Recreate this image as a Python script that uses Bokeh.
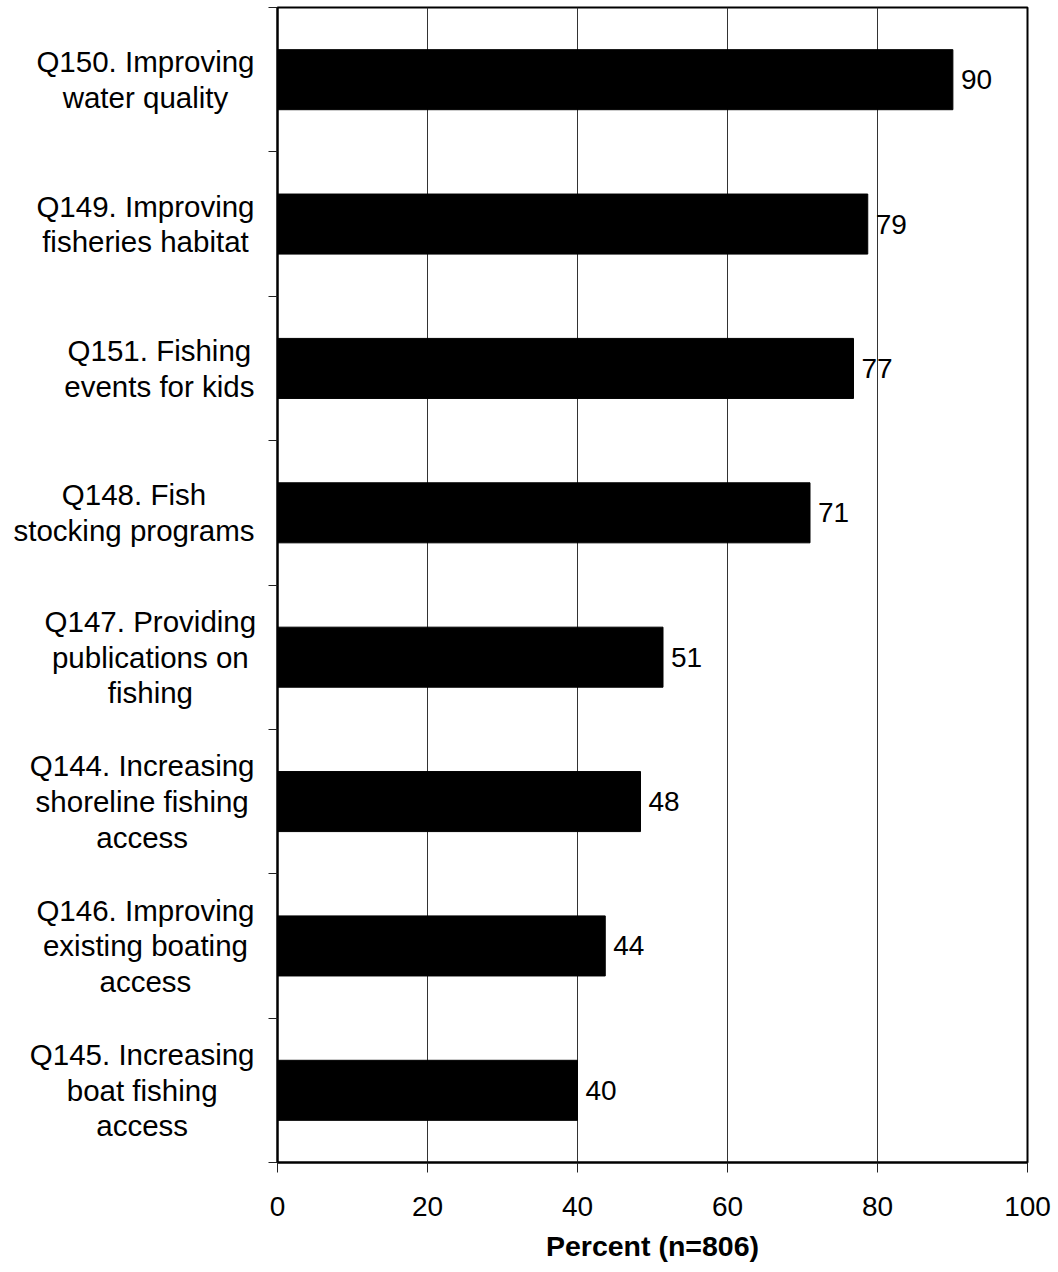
from bokeh.plotting import figure
from bokeh.layouts import row
from bokeh.models import Range1d, FixedTicker, ColumnDataSource
from bokeh.core.properties import value
from bokeh.embed import file_html
from bokeh.resources import INLINE

# ---- data (top to bottom) ----
categories = [
    "Q150. Improving\nwater quality",
    "Q149. Improving\nfisheries habitat",
    "Q151. Fishing\nevents for kids",
    "Q148. Fish\nstocking programs",
    "Q147. Providing\npublications on\nfishing",
    "Q144. Increasing\nshoreline fishing\naccess",
    "Q146. Improving\nexisting boating\naccess",
    "Q145. Increasing\nboat fishing\naccess",
]
percents = [90.05, 78.7, 76.8, 71.0, 51.4, 48.4, 43.7, 40.0]
x_ticks = [0, 20, 40, 60, 80, 100]
x_label = "Percent (n=806)"

FONT = "Liberation Sans"
FS = "28px"
CAT_PX = 29.5
CAT_FS = f"{CAT_PX}px"

H = 1272
TOP = 7
BOTTOM = 110
LEFT_W = 267
LABEL_RIGHT = 254  # right edge of the wrapped label blocks

# Arial / Liberation Sans advance widths (per 1000 em) for block centering
_W = {" ": 278, ".": 278, "Q": 778, "I": 278, "F": 611}
_W.update({d: 556 for d in "0123456789"})
_W.update(dict(a=556, b=556, c=500, d=556, e=556, f=278, g=556, h=556, i=222,
               k=500, l=222, m=833, n=556, o=556, p=556, q=556, r=333, s=500,
               t=278, u=556, v=500, w=722, x=500, y=500))


def text_width(s, px):
    return sum(_W.get(ch, 556) for ch in s) * px / 1000.0


n = len(categories)
ypos = [n - i - 0.5 for i in range(n)]
labels = [f"{v:.0f}" for v in percents]
cat_x = [LABEL_RIGHT - max(text_width(ln, CAT_PX) for ln in c.split("\n")) / 2
         for c in categories]

src = ColumnDataSource(dict(y=ypos, x=percents, lab=labels))
cat_src = ColumnDataSource(dict(y=ypos, cat=categories, x=cat_x))

# ---- left panel with category labels ----
lp = figure(width=LEFT_W, height=H, output_backend="svg", toolbar_location=None,
            x_range=Range1d(0, LEFT_W), y_range=Range1d(0, n))
lp.min_border_left = 0
lp.min_border_right = 0
lp.min_border_top = TOP
lp.min_border_bottom = BOTTOM
lp.outline_line_color = None
lp.axis.visible = False
lp.grid.visible = False
lp.text(x="x", y="y", text="cat", source=cat_src,
        text_align="center", text_baseline="middle", text_line_height=1.08,
        text_font=value(FONT), text_font_size=CAT_FS, text_color="black")

# ---- main chart ----
p = figure(width=1051 - LEFT_W, height=H, output_backend="svg", toolbar_location=None,
           x_range=Range1d(0, 100), y_range=Range1d(0, n))
p.min_border_left = 277 - LEFT_W
p.min_border_right = 24
p.min_border_top = TOP
p.min_border_bottom = BOTTOM

p.outline_line_color = "black"
p.outline_line_width = 2

p.ygrid.visible = False
p.xgrid.ticker = FixedTicker(ticks=x_ticks)
p.xgrid.grid_line_color = "#333333"
p.xgrid.grid_line_width = 1

xa = p.xaxis[0]
xa.ticker = FixedTicker(ticks=x_ticks)
xa.axis_line_color = "black"
xa.axis_line_width = 2
xa.major_tick_out = 10
xa.major_tick_in = 0
xa.major_tick_line_color = "#222222"
xa.minor_tick_line_color = None
xa.major_label_text_font = FONT
xa.major_label_text_font_size = FS
xa.major_label_text_color = "black"
xa.major_label_standoff = 24
xa.axis_label = x_label
xa.axis_label_text_font = FONT
xa.axis_label_text_font_size = "28.5px"
xa.axis_label_text_font_style = "bold"
xa.axis_label_text_color = "black"
xa.axis_label_standoff = 11

ya = p.yaxis[0]
ya.ticker = FixedTicker(ticks=list(range(n + 1)))
ya.axis_line_color = "black"
ya.axis_line_width = 2
ya.major_tick_out = 9
ya.major_tick_in = 0
ya.major_tick_line_color = "#222222"
ya.minor_tick_line_color = None
ya.major_label_overrides = {i: "" for i in range(n + 1)}
ya.major_label_standoff = 0

p.hbar(y="y", right="x", left=0, height=0.416, source=src,
       fill_color="black", line_color="black")

p.text(x="x", y="y", text="lab", source=src, x_offset=8,
       text_baseline="middle", text_align="left",
       text_font=value(FONT), text_font_size=FS, text_color="black")

layout = row(lp, p, spacing=0)
open("out.html", "w").write(file_html(layout, INLINE))
